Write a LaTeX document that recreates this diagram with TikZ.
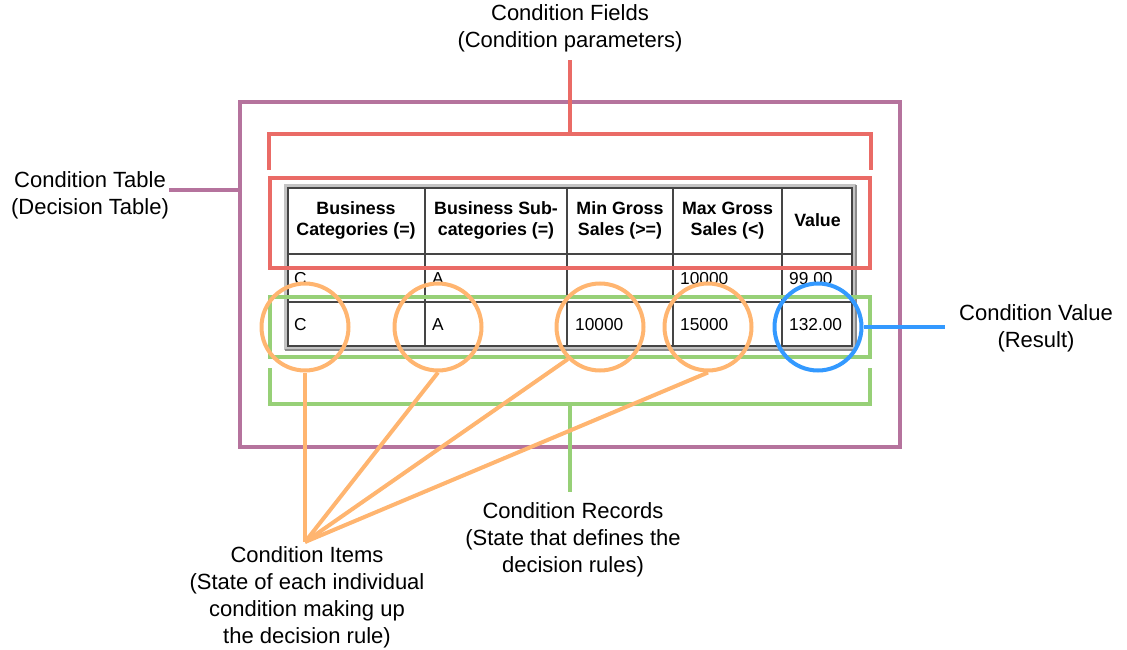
\documentclass[tikz,border=0pt]{standalone}
\usepackage{fontspec}
\setmainfont{Liberation Sans}
\definecolor{cpurple}{HTML}{B5739D}
\definecolor{cred}{HTML}{EA6B66}
\definecolor{cgreen}{HTML}{97D077}
\definecolor{corange}{HTML}{FFB570}
\definecolor{cblue}{HTML}{3399FF}
\definecolor{cgrid}{HTML}{454545}
\definecolor{cframe}{HTML}{C4C4C4}
\definecolor{cframedark}{HTML}{8C8C8C}
\tikzset{
  lbl/.style={align=center, inner sep=0pt, font=\fontsize{22}{27}\selectfont},
  hdr/.style={align=center, inner sep=0pt, font=\fontsize{17.8}{20.5}\selectfont\bfseries},
  cell/.style={anchor=west, inner sep=0pt, text height=12.5pt, text depth=0pt, font=\fontsize{17.3}{20}\selectfont},
  mark line/.style={line width=4pt},
  ring/.style={circle, draw, line width=4pt, minimum size=87pt, inner sep=0pt},
}
\begin{document}
\begin{tikzpicture}[x=1pt,y=-1pt]
\useasboundingbox (0,0) rectangle (1127,650);
% table
\draw[cframe, line width=3.5pt] (285.5,185.5) rectangle (854.5,348.5);
\draw[cframedark, line width=2pt] (284.5,349.5) -- (855.5,349.5) -- (855.5,184.5);
\draw[cgrid, line width=2.6pt] (288,188) rectangle (852,346);
\foreach \x in {425,567,673,782} \draw[cgrid, line width=2.6pt] (\x,188) -- (\x,346);
\foreach \y in {254,302} \draw[cgrid, line width=2.6pt] (288,\y) -- (852,\y);
\node[hdr] (h1) at (356,220.5) {Business\\Categories (=)};
\node[hdr] (h2) at (496,220.5) {Business Sub-\\categories (=)};
\node[hdr] (h3) at (620,220.5) {Min Gross\\Sales (>=)};
\node[hdr] (h4) at (727.5,220.5) {Max Gross\\Sales (<)};
\node[hdr] (h5) at (817.5,220.5) {Value};
\node[cell] (r1a) at (294,278) {C};
\node[cell] (r1b) at (432,278) {A};
\node[cell] (r1d) at (680,278) {10000};
\node[cell] (r1e) at (789,278) {99.00};
\node[cell] (r2a) at (294,324.5) {C};
\node[cell] (r2b) at (432,324.5) {A};
\node[cell] (r2c) at (575,324.5) {10000};
\node[cell] (r2d) at (680,324.5) {15000};
\node[cell] (r2e) at (789,324.5) {132.00};
% purple table frame
\draw[cpurple, mark line] (240,102) rectangle (900,447);
\node[lbl] (ctab) at (90,195) {Condition Table\\(Decision Table)};
\coordinate (pw) at (240,190);
\draw[cpurple, mark line] (ctab.east |- pw) -- (pw);
% red fields
\draw[cred, mark line] (270,178) rectangle (870,268);
\draw[cred, mark line] (269,170) -- (269,134) -- (871,134) -- (871,170);
\coordinate (rtop) at (570,134);
\node[lbl] (cfields) at (570,28) {Condition Fields\\(Condition parameters)};
\draw[cred, mark line] (rtop) -- (570,60);
% green records
\draw[cgreen, mark line] (270,297) rectangle (870,357);
\draw[cgreen, mark line] (270,368) -- (270,404) -- (870,404) -- (870,368);
\coordinate (gbot) at (570,404);
\node[lbl] (crec) at (573,540) {Condition Records\\(State that defines the\\decision rules)};
\coordinate (gend) at (570,492);
\draw[cgreen, mark line] (gbot) -- (gend);
% circles
\node[ring, corange] (c1) at (305,327) {};
\node[ring, corange] (c2) at (438,327) {};
\node[ring, corange] (c3) at (600,327) {};
\node[ring, corange] (c4) at (708,327) {};
\node[ring, cblue] (c5) at (818,327) {};
% items
\node[lbl] (citems) at (307,597.5) {Condition Items\\(State of each individual\\condition making up\\the decision rule)};
\coordinate (iy) at (305,542);
\draw[corange, mark line] (c1.south) -- (iy);
\draw[corange, mark line] (c2.south) -- (iy);
\draw[corange, mark line] (c3.south west) -- (iy);
\draw[corange, mark line] (c4.south) -- (iy);
% value
\node[lbl] (cval) at (1036,328) {Condition Value\\(Result)};
\coordinate (bend) at (945,327);
\draw[cblue, mark line] (c5.east) -- (bend);
\end{tikzpicture}
\end{document}
